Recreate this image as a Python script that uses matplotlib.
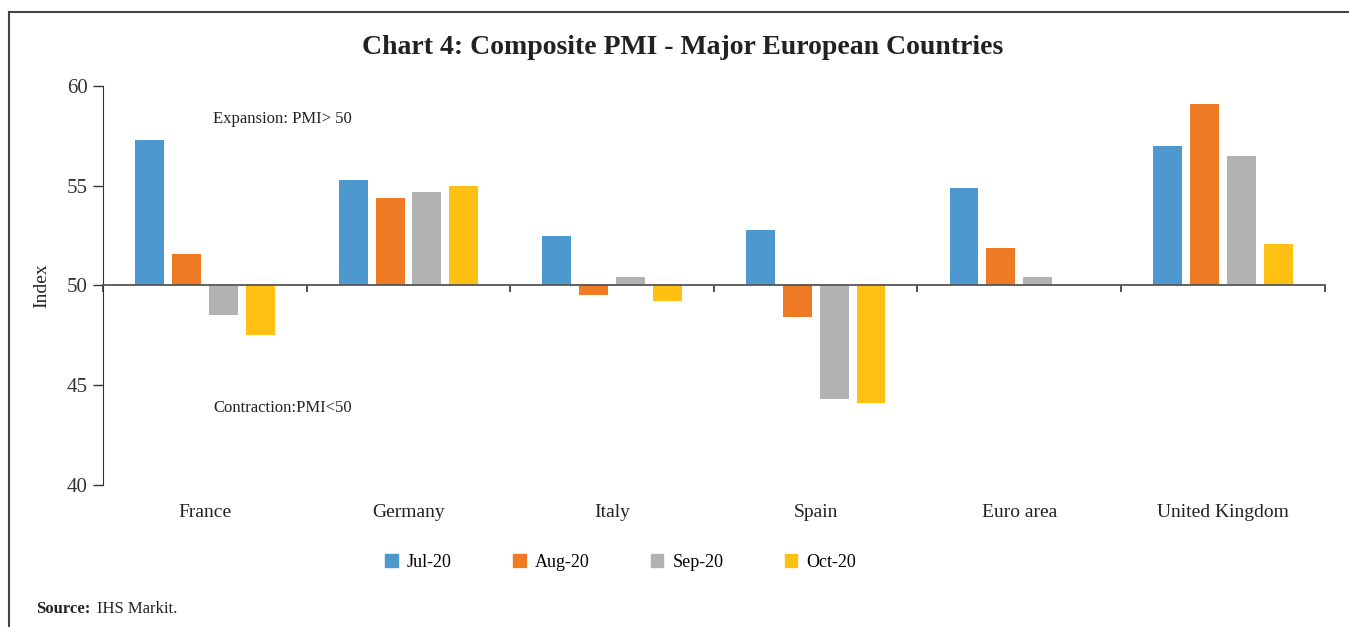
import numpy as np
import matplotlib
matplotlib.use("Agg")
import matplotlib.pyplot as plt
from matplotlib.lines import Line2D

plt.rcParams['font.family'] = ['Liberation Serif', 'DejaVu Serif']

countries = ['France', 'Germany', 'Italy', 'Spain', 'Euro area', 'United Kingdom']
months = ['Jul-20', 'Aug-20', 'Sep-20', 'Oct-20']
jul = [57.3, 55.3, 52.5, 52.8, 54.9, 57.0]
aug = [51.6, 54.4, 49.5, 48.4, 51.9, 59.1]
sep = [48.5, 54.7, 50.4, 44.3, 50.4, 56.5]
oct_ = [47.5, 55.0, 49.2, 44.1, 50.0, 52.1]
colors = ['#4E98D0', '#EE7B23', '#B1B2B4', '#FDC013']

fig = plt.figure(figsize=(13.49, 6.27), dpi=100)
ax = fig.add_axes([0.0764, 0.2265, 0.9056, 0.6365])

x = np.arange(len(countries))
step = 0.181
width = 0.142
for i, (vals, c, m) in enumerate(zip([jul, aug, sep, oct_], colors, months)):
    vals = np.array(vals)
    ax.bar(x + (i - 1.5) * step, vals - 50, bottom=50, width=width, color=c, label=m)

ax.set_xlim(-0.5, len(countries) - 0.5)
ax.set_ylim(40, 60)
ax.set_yticks([40, 45, 50, 55, 60])
ax.tick_params(axis='y', direction='out', length=7, width=1, colors='#333333',
               labelsize=15, pad=4)

ax.spines['top'].set_visible(False)
ax.spines['right'].set_visible(False)
ax.spines['left'].set_color('#333333')
ax.spines['bottom'].set_position(('data', 50))
ax.spines['bottom'].set_color('#555555')
ax.spines['bottom'].set_linewidth(1.3)

ax.set_xticks(np.arange(len(countries) + 1) - 0.5)
ax.set_xticklabels([])
ax.tick_params(axis='x', direction='out', length=5, width=1.2, colors='#333333')
for xi, name in zip(x, countries):
    ax.text(xi, -0.068, name, transform=ax.get_xaxis_transform(), ha='center',
            va='center', fontsize=14, color='#222222')

ax.set_ylabel('Index', fontsize=14, color='#222222', labelpad=12)

ax.text(0.04, 58.35, 'Expansion: PMI> 50', fontsize=12, color='#222222', va='center')
ax.text(0.04, 43.85, 'Contraction:PMI<50', fontsize=12, color='#222222', va='center')

fig.text(0.506, 0.925, 'Chart 4: Composite PMI - Major European Countries',
         ha='center', va='center', fontsize=20, fontweight='bold', color='#222222')

handles = [plt.Rectangle((0, 0), 1, 1, color=c) for c in colors]
fig.legend(handles, months, loc='center', bbox_to_anchor=(0.46, 0.103), ncol=4,
           frameon=False, fontsize=13, handlelength=0.7, handleheight=0.7,
           columnspacing=3.4, handletextpad=0.5)

fig.text(0.027, 0.028, 'Source:', fontsize=12, fontweight='bold', color='#222222',
         va='center')
fig.text(0.072, 0.028, 'IHS Markit.', fontsize=12, color='#222222', va='center')

# outer frame (top and left edges visible in the crop)
fig.add_artist(Line2D([0.0067, 0.0067], [0.0, 0.981], color='#444444', lw=1.5,
                      transform=fig.transFigure))
fig.add_artist(Line2D([0.0067, 1.0], [0.981, 0.981], color='#444444', lw=1.5,
                      transform=fig.transFigure))

fig.savefig('out.png', dpi=100)
